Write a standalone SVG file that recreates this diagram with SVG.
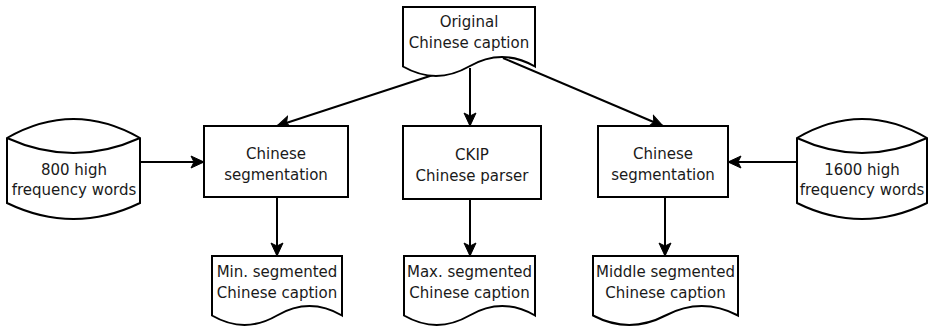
<svg xmlns="http://www.w3.org/2000/svg" width="930" height="329" viewBox="0 0 930 329">
<defs>
<style>
.s{fill:#fff;stroke:#000;stroke-width:2}
.n{fill:none;stroke:#000;stroke-width:2}
.t{font-family:"DejaVu Sans",Verdana,sans-serif;font-size:15px;fill:#1a1a1a;text-anchor:middle}
.e{fill:none;stroke:#000;stroke-width:2;marker-end:url(#a)}
</style>
<marker id="a" markerUnits="userSpaceOnUse" markerWidth="16" markerHeight="14" viewBox="-14 -7 16 14" refX="0" refY="0" orient="auto">
<path d="M-13,-6 L0,0 L-13,6 L-10,0 Z" fill="#000" stroke="#000" stroke-width="1"/>
</marker>
</defs>
<g id="connectors">
<line class="e" x1="433" y1="75" x2="277" y2="126"/>
<line class="e" x1="470" y1="68" x2="470" y2="126"/>
<line class="e" x1="503" y1="58" x2="663" y2="126"/>
<line class="e" x1="140" y1="162" x2="204" y2="162"/>
<line class="e" x1="797" y1="162" x2="728" y2="162"/>
<line class="e" x1="277" y1="197" x2="277" y2="256"/>
<line class="e" x1="470" y1="199" x2="470" y2="256"/>
<line class="e" x1="665" y1="197" x2="665" y2="256"/>
</g>
<g id="orig">
<path class="s" d="M403,7 H535 V66.5 Q502,47.6 469,66.5 Q436,85.4 403,66.5 Z"/>
<text class="t" x="469" y="27">Original</text>
<text class="t" x="469" y="48">Chinese caption</text>
</g>
<g id="db800">
<path class="s" d="M7,138 Q73.5,100 140,138 V203 Q73.5,235 7,203 Z"/>
<path class="n" d="M7,138 Q73.5,168 140,138"/>
<text class="t" x="74" y="175">800 high</text>
<text class="t" x="74" y="195">frequency words</text>
</g>
<g id="db1600">
<path class="s" d="M797,138 Q862,100 927,138 V203 Q862,235 797,203 Z"/>
<path class="n" d="M797,138 Q862,168 927,138"/>
<text class="t" x="862" y="175">1600 high</text>
<text class="t" x="862" y="195">frequency words</text>
</g>
<g id="seg1">
<rect class="s" x="204" y="126" width="144" height="71"/>
<text class="t" x="276" y="159">Chinese</text>
<text class="t" x="276" y="180">segmentation</text>
</g>
<g id="ckip">
<rect class="s" x="403" y="126" width="138" height="73"/>
<text class="t" x="472" y="160">CKIP</text>
<text class="t" x="472" y="181">Chinese parser</text>
</g>
<g id="seg2">
<rect class="s" x="598" y="126" width="130" height="71"/>
<text class="t" x="663" y="159">Chinese</text>
<text class="t" x="663" y="180">segmentation</text>
</g>
<g id="minout">
<path class="s" d="M212,256 H342 V315.5 Q309.5,296.6 277,315.5 Q244.5,334.4 212,315.5 Z"/>
<text class="t" x="277" y="277">Min. segmented</text>
<text class="t" x="277" y="298">Chinese caption</text>
</g>
<g id="maxout">
<path class="s" d="M404,256 H535 V315.5 Q502.25,296.6 469.5,315.5 Q436.75,334.4 404,315.5 Z"/>
<text class="t" x="469.5" y="277">Max. segmented</text>
<text class="t" x="469.5" y="298">Chinese caption</text>
</g>
<g id="midout">
<path class="s" d="M593,256 H738 V315.5 Q701.75,296.6 665.5,315.5 Q629.25,334.4 593,315.5 Z"/>
<text class="t" x="665.5" y="277">Middle segmented</text>
<text class="t" x="665.5" y="298">Chinese caption</text>
</g>
</svg>
